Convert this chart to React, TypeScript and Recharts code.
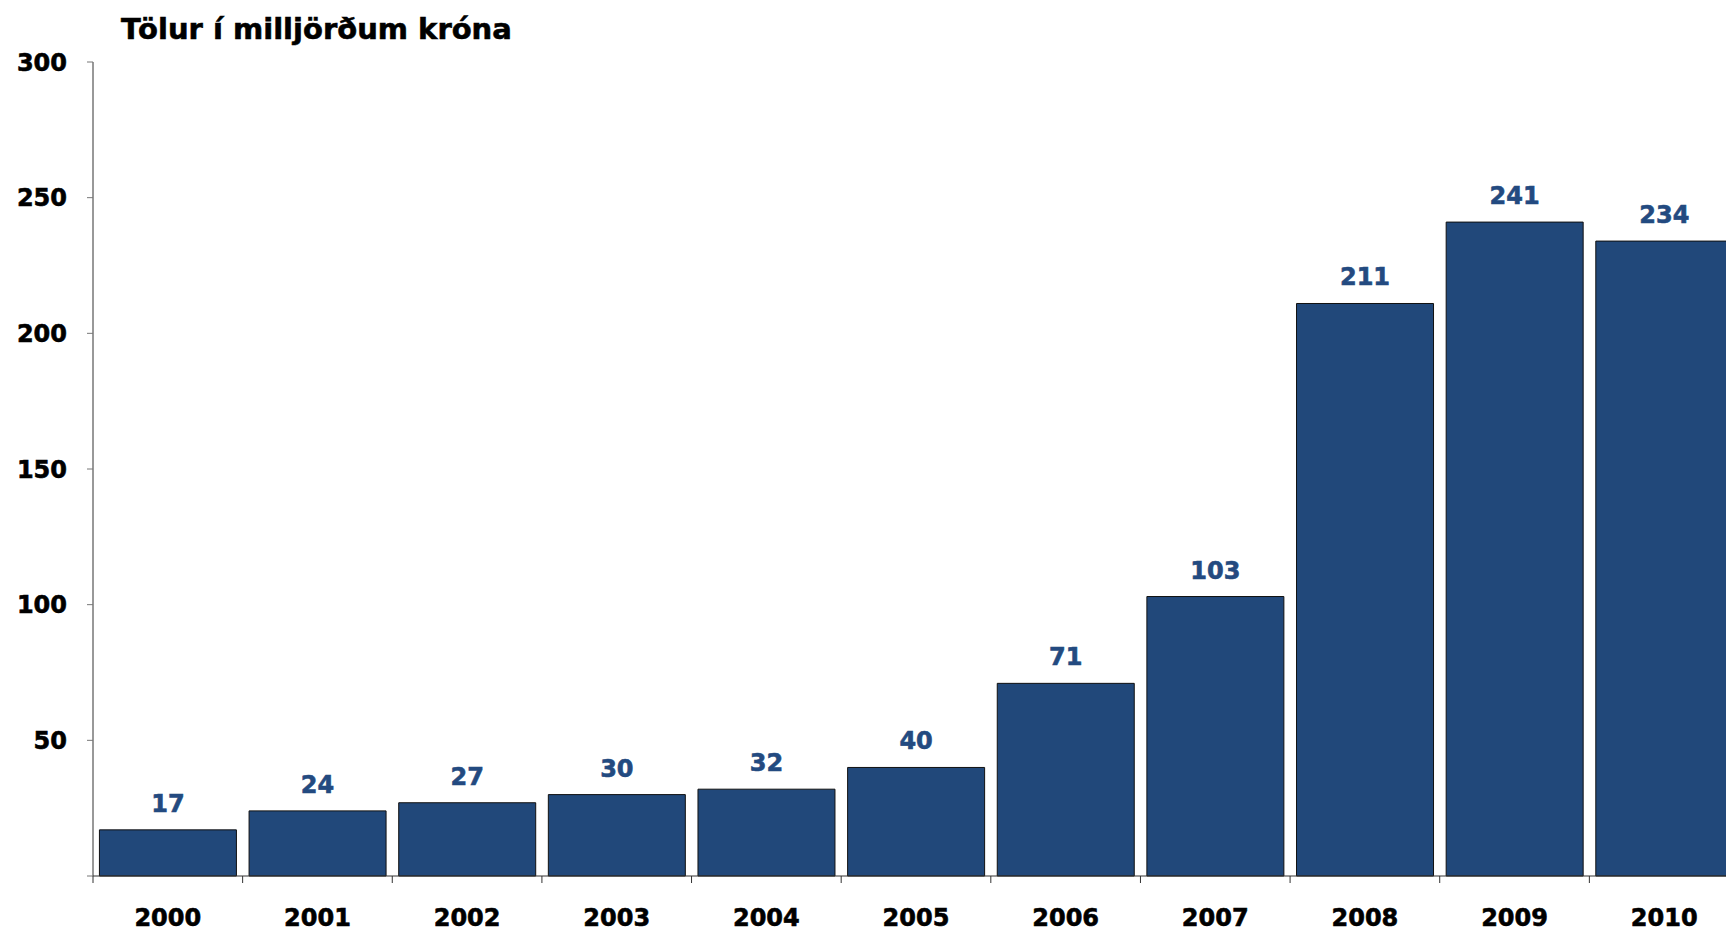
import { BarChart, Bar, XAxis, YAxis, LabelList } from "recharts";

const years = ["2000", "2001", "2002", "2003", "2004", "2005", "2006", "2007", "2008", "2009", "2010"];
const values = [17, 24, 27, 30, 32, 40, 71, 103, 211, 241, 234];
const yTicks = [0, 50, 100, 150, 200, 250, 300];

const FONT = "'DejaVu Sans', Verdana, sans-serif";
const BAR = "#21487a";
const LABEL = "#234a80";

const AXIS_W = 93;
const PLOT_W = 1646;
const BAND = PLOT_W / years.length;

const data = years.map((y, i) => ({ year: y, value: values[i] }));

// year label centred in the band, tick mark at the band's left edge
function YearTick(props: any) {
  const { x, y, payload } = props;
  const left = x - BAND / 2;
  return (
    <g>
      <line x1={left} y1={y - 8} x2={left} y2={y - 1} stroke="#333" strokeWidth={1} />
      <text
        x={x}
        y={y + 42}
        textAnchor="middle"
        fill="#000"
        stroke="#000"
        strokeWidth={0.6}
        fontFamily={FONT}
        fontWeight="bold"
        fontSize={24}
      >
        {payload.value}
      </text>
    </g>
  );
}

export default function App() {
  return (
    <div
      style={{
        position: "absolute",
        left: 0,
        top: 0,
        width: 1726,
        height: 931,
        overflow: "hidden",
        background: "#fff",
      }}
    >
      <div
        style={{
          position: "absolute",
          left: 121,
          top: 12,
          fontFamily: FONT,
          fontWeight: "bold",
          fontSize: 29,
          color: "#000",
          whiteSpace: "nowrap",
          WebkitTextStroke: "0.6px #000",
        }}
      >
        Tölur í milljörðum króna
      </div>
      <BarChart
        width={AXIS_W + PLOT_W}
        height={931}
        data={data}
        margin={{ top: 62, right: 0, bottom: 0, left: 0 }}
        barCategoryGap="4.3%"
      >
        <XAxis
          dataKey="year"
          height={55}
          tickLine={false}
          axisLine={{ stroke: "#333" }}
          tick={<YearTick />}
          interval={0}
        />
        <YAxis
          width={AXIS_W}
          domain={[0, 300]}
          ticks={yTicks}
          tickSize={6}
          tickMargin={20}
          tickLine={{ stroke: "#777" }}
          axisLine={{ stroke: "#333" }}
          tickFormatter={(v: number) => (v === 0 ? "" : String(v))}
          tick={{ fill: "#000", stroke: "#000", strokeWidth: 0.6, fontFamily: FONT, fontWeight: "bold", fontSize: 24 }}
        />
        <Bar dataKey="value" fill={BAR} stroke="#111" strokeWidth={1} isAnimationActive={false}>
          <LabelList
            dataKey="value"
            position="top"
            offset={18}
            fill={LABEL}
            stroke={LABEL}
            strokeWidth={0.6}
            fontFamily={FONT}
            fontWeight="bold"
            fontSize={24}
          />
        </Bar>
      </BarChart>
    </div>
  );
}
